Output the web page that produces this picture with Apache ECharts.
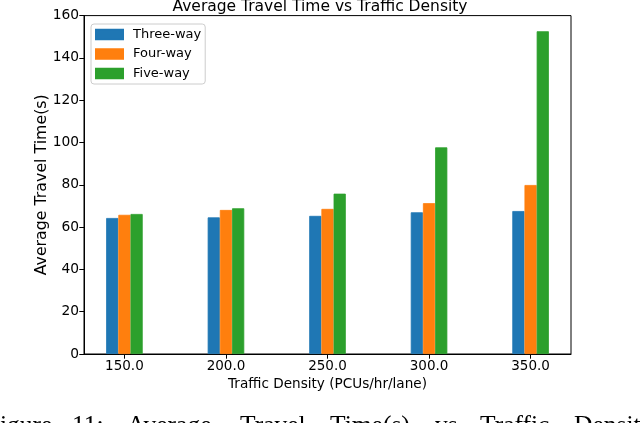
<!DOCTYPE html>
<html>
<head>
<meta charset="utf-8">
<script src="https://cdn.jsdelivr.net/npm/echarts@6/dist/echarts.min.js"></script>
<style>html,body{margin:0;padding:0;background:#fff;}#c{width:640px;height:423px;}</style>
</head>
<body>
<div id="c"></div>
<script>
var densities = [150, 200, 250, 300, 350];
var tickLabels = ['150.0', '200.0', '250.0', '300.0', '350.0'];
var seriesNames = ['Three-way', 'Four-way', 'Five-way'];
var threeWay = [64.3, 64.6, 65.3, 67.0, 67.6];
var fourWay = [65.8, 68.1, 68.6, 71.3, 79.9];
var fiveWay = [66.2, 68.9, 75.8, 97.7, 152.6];
var yTicks = [0, 20, 40, 60, 80, 100, 120, 140, 160];
var captionWords = ['Figure', '11:', 'Average', 'Travel', 'Time(s)', 'vs', 'Traffic', 'Density'];

var colors = ['#1f77b4', '#ff7f0e', '#2ca02c'];
var barUnit = 6;
var xMin = 130.1, xMax = 369.9;
var gridLeft = 84, gridRight = 69, gridTop = 15.6, gridBottom = 69;
var plotW = 640 - gridLeft - gridRight;
var barPx = plotW / (xMax - xMin) * barUnit;

function pairs(vals) { return densities.map(function (d, i) { return [d, vals[i]]; }); }
var allVals = [threeWay, fourWay, fiveWay];

var captionX = [-14.2, 72, 127, 240, 330, 435, 480, 574];
var graphics = captionWords.map(function (w, i) {
  return { type: 'text', left: captionX[i], top: 413.5, silent: true,
    style: { text: w, font: '25.5px "Liberation Serif"', fill: '#000' } };
});

var chart = echarts.init(document.getElementById('c'), null, { renderer: 'canvas' });
chart.setOption({
  animation: false,
  color: colors,
  title: {
    text: 'Average Travel Time vs Traffic Density',
    left: 'center', top: -6.5,
    textStyle: { fontFamily: 'DejaVu Sans', fontSize: 15.5, fontWeight: 'normal', color: '#000' }
  },
  legend: {
    orient: 'vertical', left: 91, top: 24,
    itemWidth: 27, itemHeight: 9.5, itemGap: 6.5,
    padding: [4, 4, 4, 4],
    borderColor: '#cccccc', borderWidth: 1, borderRadius: 3,
    backgroundColor: 'rgba(255,255,255,0.8)',
    icon: 'rect',
    textStyle: { fontFamily: 'DejaVu Sans', fontSize: 13, color: '#000', padding: [0, 0, 0, 5] },
    data: seriesNames
  },
  grid: { left: gridLeft, right: gridRight, top: gridTop, bottom: gridBottom, show: true, borderColor: '#000', borderWidth: 1, containLabel: false },
  xAxis: {
    type: 'value', min: xMin, max: xMax,
    name: 'Traffic Density (PCUs/hr/lane)', nameLocation: 'middle', nameGap: 23,
    nameTextStyle: { fontFamily: 'DejaVu Sans', fontSize: 13.6, color: '#000' },
    axisLine: { show: true, lineStyle: { color: '#000', width: 1 } },
    axisTick: { show: true, customValues: densities, length: 4.7, lineStyle: { color: '#000' } },
    axisLabel: { customValues: densities, margin: 5, fontFamily: 'DejaVu Sans', fontSize: 13.5, color: '#000',
      formatter: function (v) { return tickLabels[densities.indexOf(v)] || ''; } },
    splitLine: { show: false }
  },
  yAxis: {
    type: 'value', min: yTicks[0], max: yTicks[yTicks.length - 1], interval: yTicks[1] - yTicks[0],
    name: 'Average Travel Time(s)', nameLocation: 'middle', nameGap: 34, nameRotate: 90,
    nameMoveOverlap: false,
    nameTextStyle: { fontFamily: 'DejaVu Sans', fontSize: 15.8, color: '#000' },
    axisLine: { show: true, lineStyle: { color: '#000', width: 1 } },
    axisTick: { show: true, length: 4.7, lineStyle: { color: '#000' } },
    axisLabel: { margin: 5, fontFamily: 'DejaVu Sans', fontSize: 13.8, color: '#000' },
    splitLine: { show: false }
  },
  series: seriesNames.map(function (n, i) {
    return { name: n, type: 'bar', barWidth: barPx, barGap: '0%', data: pairs(allVals[i]),
      itemStyle: { color: colors[i], borderColor: colors[i], borderWidth: 0.8 } };
  }),
  graphic: graphics
});
</script>
</body>
</html>
